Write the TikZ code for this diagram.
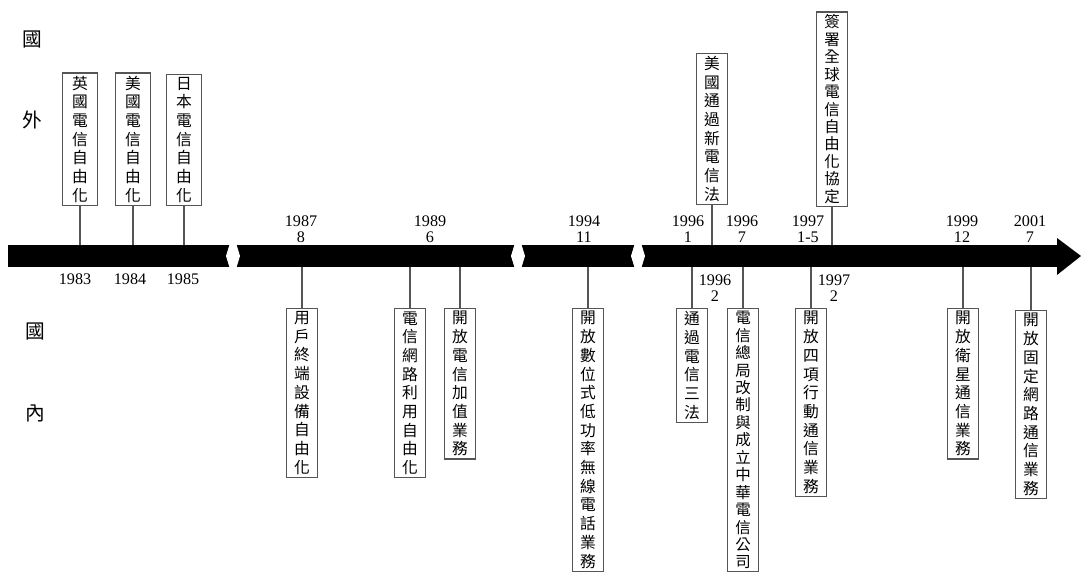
\documentclass[tikz,border=0pt]{standalone}
\usepackage{fontspec}
\setmainfont{Liberation Serif}
\newfontfamily\cjk{Noto Sans CJK TC}
\XeTeXlinebreaklocale "zh"
\XeTeXlinebreakskip=0pt plus 1pt
\usepackage{tikz}
\usetikzlibrary{positioning}
\definecolor{linegray}{RGB}{85,85,85}

\begin{document}
\begin{tikzpicture}[
  x=0.25mm, y=-0.25mm,
  evbox/.style={rectangle, draw=linegray, line width=0.9pt, fill=white,
                text width=11.6pt, align=center, inner xsep=5pt, inner ysep=2pt,
                font=\cjk\fontsize{11.2}{13.3}\selectfont},
  widebox/.style={evbox, inner xsep=6.5pt},
  tightbox/.style={evbox, font=\cjk\fontsize{11}{12.4}\selectfont},
  side/.style={font=\cjk\fontsize{14}{16}\selectfont},
  year/.style={align=center, inner sep=0pt, font=\fontsize{11.5}{11.5}\selectfont},
  tick/.style={draw=linegray, line width=0.8pt}
]
\useasboundingbox (0,0) rectangle (1081,574);

% time axis with breaks
\fill (8,245) rectangle (1057,267);
\fill (1057,238) -- (1081,256) -- (1057,275) -- cycle;
\foreach \gx in {233,518,638}
  \fill[white] (\gx-3,243) -- (\gx+3,243) -- (\gx+7,256) -- (\gx+3,269)
               -- (\gx-3,269) -- (\gx-7,256) -- cycle;

% side labels
\node[side] (out1) at (32,40) {國};
\node[side] (out2) at (32,120) {外};
\node[side] (in1) at (35,332) {國};
\node[side] (in2) at (35,413) {內};

% abroad (above the axis)
\node[widebox, anchor=south] (uk) at (80,206) {英國電信自由化};
\node[widebox, anchor=south] (us) at (133,206) {美國電信自由化};
\node[widebox, anchor=south] (jp) at (184,206) {日本電信自由化};
\node[evbox, anchor=south] (usact) at (712,205) {美國通過新電信法};
\node[tightbox, anchor=south] (wto) at (832,207) {簽署全球電信自由化協定};

\coordinate (uk-t) at (80,245);
\coordinate (us-t) at (133,245);
\coordinate (jp-t) at (184,245);
\coordinate (usact-t) at (712,245);
\coordinate (wto-t) at (832,245);

\draw[tick] (uk.south) -- (uk-t);
\draw[tick] (us.south) -- (us-t);
\draw[tick] (jp.south) -- (jp-t);
\draw[tick] (usact.south) -- (usact-t);
\draw[tick] (wto.south) -- (wto-t);

% domestic (below the axis)
\node[evbox, anchor=north] (cpe) at (302,308) {用戶終端設備自由化};
\node[evbox, anchor=north] (net) at (410,308) {電信網路利用自由化};
\node[evbox, anchor=north] (vas) at (460,308) {開放電信加值業務};
\node[evbox, anchor=north] (pcs) at (588,308) {開放數位式低功率無線電話業務};
\node[evbox, anchor=north] (law) at (692,308) {通過電信三法};
\node[tightbox, anchor=north] (cht) at (743,308) {電信總局改制與成立中華電信公司};
\node[evbox, anchor=north] (mob) at (811,308) {開放四項行動通信業務};
\node[evbox, anchor=north] (sat) at (963,308) {開放衛星通信業務};
\node[evbox, anchor=north] (fix) at (1031,310) {開放固定網路通信業務};

\coordinate (cpe-t) at (302,267);
\coordinate (net-t) at (410,267);
\coordinate (vas-t) at (460,267);
\coordinate (pcs-t) at (588,267);
\coordinate (law-t) at (692,267);
\coordinate (cht-t) at (743,267);
\coordinate (mob-t) at (811,267);
\coordinate (sat-t) at (963,267);
\coordinate (fix-t) at (1031,267);

\draw[tick] (cpe-t) -- (cpe.north);
\draw[tick] (net-t) -- (net.north);
\draw[tick] (vas-t) -- (vas.north);
\draw[tick] (pcs-t) -- (pcs.north);
\draw[tick] (law-t) -- (law.north);
\draw[tick] (cht-t) -- (cht.north);
\draw[tick] (mob-t) -- (mob.north);
\draw[tick] (sat-t) -- (sat.north);
\draw[tick] (fix-t) -- (fix.north);

% dates
\node[year] (y83) at (75,279) {1983};
\node[year] (y84) at (130,279) {1984};
\node[year] (y85) at (183,279) {1985};
\node[year] (y87) at (301,229) {1987\\8};
\node[year] (y89) at (430,229) {1989\\6};
\node[year] (y94) at (584,229) {1994\\11};
\node[year] (y961) at (688,229) {1996\\1};
\node[year] (y967) at (742,229) {1996\\7};
\node[year] (y962) at (715,288) {1996\\2};
\node[year] (y971) at (808,229) {1997\\1-5};
\node[year] (y972) at (834,288) {1997\\2};
\node[year] (y99) at (962,229) {1999\\12};
\node[year] (y01) at (1030,229) {2001\\7};

\end{tikzpicture}
\end{document}
